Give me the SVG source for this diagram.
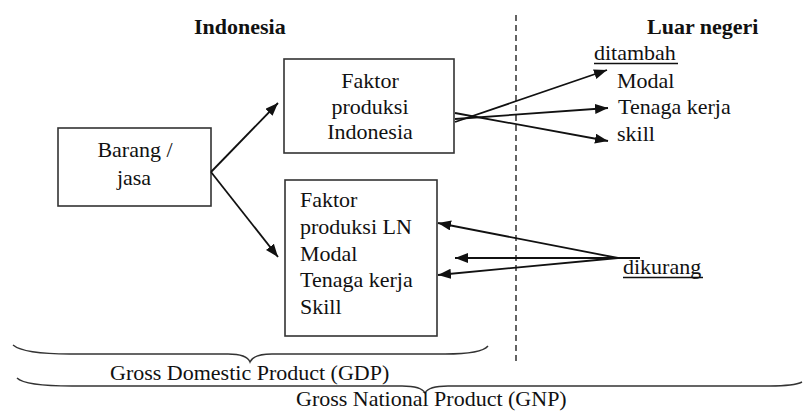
<svg xmlns="http://www.w3.org/2000/svg" width="803" height="415" viewBox="0 0 803 415">
  <defs>
    <marker id="arrow" markerUnits="userSpaceOnUse" markerWidth="14" markerHeight="12" refX="13" refY="5" orient="auto">
      <path d="M0,0 L13,5 L0,10 Z" fill="#111"/>
    </marker>
    <style>
      text { font-family: "Liberation Serif", "Times New Roman", serif; font-size: 22px; fill: #111; }
      .bold { font-weight: bold; }
      .mid { text-anchor: middle; }
      .box { fill: #fff; stroke: #333; stroke-width: 1.6; }
      .conn { fill: none; stroke: #111; stroke-width: 1.8; }
      .brace { fill: none; stroke: #333; stroke-width: 1.4; }
      .uline { stroke: #111; stroke-width: 1.6; }
    </style>
  </defs>
  <rect width="803" height="415" fill="#fff"/>

  <!-- region headings and divider -->
  <g id="headings">
    <text class="bold" x="194" y="34">Indonesia</text>
    <text class="bold" x="647" y="34">Luar negeri</text>
    <line x1="516" y1="15" x2="516" y2="362" stroke="#222" stroke-width="1.4" stroke-dasharray="6,4"/>
  </g>

  <!-- nodes -->
  <g id="barang-jasa">
    <rect class="box" x="58" y="128" width="153" height="78"/>
    <text class="mid" x="135" y="157">Barang /</text>
    <text class="mid" x="134" y="185">jasa</text>
  </g>

  <g id="faktor-indonesia">
    <rect class="box" x="284" y="59" width="170" height="94"/>
    <text class="mid" x="370" y="88">Faktor</text>
    <text class="mid" x="370" y="114">produksi</text>
    <text class="mid" x="370" y="139">Indonesia</text>
  </g>

  <g id="faktor-ln">
    <rect class="box" x="285" y="180" width="152" height="156"/>
    <text x="300" y="207">Faktor</text>
    <text x="300" y="234">produksi LN</text>
    <text x="300" y="261">Modal</text>
    <text x="300" y="287">Tenaga kerja</text>
    <text x="300" y="314">Skill</text>
  </g>

  <g id="ditambah">
    <text x="594" y="60">ditambah</text>
    <line class="uline" x1="594" y1="63.5" x2="678" y2="63.5"/>
    <text x="617" y="88">Modal</text>
    <text x="618" y="114">Tenaga kerja</text>
    <text x="617" y="141">skill</text>
  </g>

  <g id="dikurang">
    <text x="623" y="274">dikurang</text>
    <line class="uline" x1="623" y1="277.5" x2="703" y2="277.5"/>
  </g>

  <!-- connectors -->
  <g id="connectors">
    <line class="conn" x1="211" y1="172" x2="278" y2="103" marker-end="url(#arrow)"/>
    <line class="conn" x1="211" y1="172" x2="278" y2="257" marker-end="url(#arrow)"/>

    <line class="conn" x1="455" y1="122" x2="607" y2="70" marker-end="url(#arrow)"/>
    <line class="conn" x1="455" y1="119" x2="608" y2="108" marker-end="url(#arrow)"/>
    <line class="conn" x1="455" y1="113" x2="608" y2="141" marker-end="url(#arrow)"/>

    <line class="conn" x1="618" y1="258" x2="438" y2="223" marker-end="url(#arrow)"/>
    <line class="conn" x1="640" y1="258" x2="455" y2="258" marker-end="url(#arrow)"/>
    <line class="conn" x1="618" y1="258" x2="438" y2="275" marker-end="url(#arrow)"/>
  </g>

  <!-- brackets for GDP and GNP -->
  <g id="gdp">
    <path class="brace" d="M13,345 C20,351 40,354 70,354 L228,354 C242,354 248,357 250,362 C252,357 258,354 272,354 L445,354 C472,354 484,351 488,346"/>
    <text x="110" y="380">Gross Domestic Product (GDP)</text>
  </g>
  <g id="gnp">
    <path class="brace" d="M17,378 C23,384 42,386 72,386 L402,386 C416,386 423,389 425,393 C427,389 434,386 448,386 L770,386 C790,386 798,384 802,382"/>
    <text x="296" y="406">Gross National Product (GNP)</text>
  </g>
</svg>
